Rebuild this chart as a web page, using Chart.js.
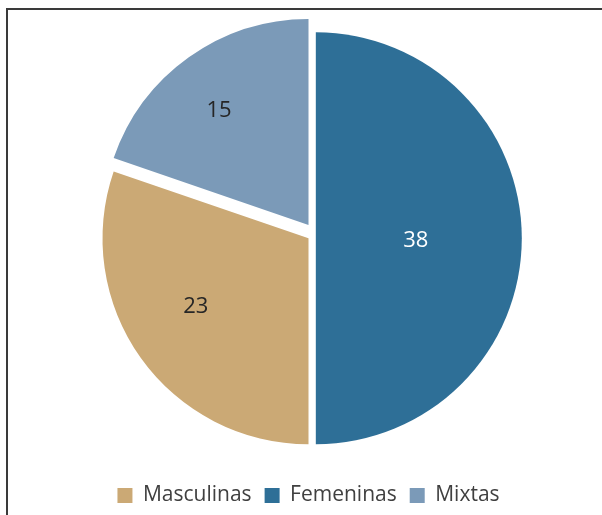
<!DOCTYPE html>
<html>
<head>
<meta charset="utf-8">
<script src="https://cdn.jsdelivr.net/npm/chart.js@4/dist/chart.umd.min.js"></script>
<style>
  html, body { margin: 0; padding: 0; background: #ffffff; overflow: hidden; }
  #wrap { position: relative; width: 602px; height: 515px; overflow: hidden; }
  #frame { position: absolute; left: 6px; top: 8px; width: 700px; height: 600px;
           border-top: 2px solid #3a3a3a; border-left: 2px solid #3a3a3a; }
  #c { position: absolute; left: 0; top: 0; }
</style>
</head>
<body>
<div id="wrap">
  <div id="frame"></div>
  <canvas id="c" width="602" height="525"></canvas>
</div>
<script>
// ---- data ----
const categories = ['Femeninas', 'Masculinas', 'Mixtas'];
const values = [38, 23, 15];
const legendOrder = ['Masculinas', 'Femeninas', 'Mixtas'];

// ---- styling ----
const sliceColors = ['#2e6f97', '#cba975', '#7b9ab8'];
const labelColors = ['#ffffff', '#262626', '#262626'];
const explodeShift = [[7.3, 0], [0, 0], [0, -13.3]]; // pixel explosion of each slice
const labelNudge = [[3, 2.5], [-6.5, -7], [-6.5, 1.5]]; // small text nudges
const LABEL_K = 1.11; // label distance relative to sector centroid

const explodePlugin = {
  id: 'explodeSlices',
  afterDatasetsUpdate(chart) {
    const meta = chart.getDatasetMeta(0);
    meta.data.forEach((arc, i) => {
      arc.x += explodeShift[i][0];
      arc.y += explodeShift[i][1];
    });
  }
};

const labelPlugin = {
  id: 'sliceLabels',
  afterDatasetsDraw(chart) {
    const ctx = chart.ctx;
    const meta = chart.getDatasetMeta(0);
    ctx.save();
    ctx.font = '22px "Open Sans"';
    ctx.textAlign = 'center';
    ctx.textBaseline = 'middle';
    meta.data.forEach((arc, i) => {
      const a = arc.endAngle - arc.startAngle;
      const mid = (arc.startAngle + arc.endAngle) / 2;
      const d = LABEL_K * 2 * arc.outerRadius * Math.sin(a / 2) / (3 * a / 2);
      ctx.fillStyle = labelColors[i];
      ctx.fillText(String(chart.data.datasets[0].data[i]),
        arc.x + Math.cos(mid) * d + labelNudge[i][0],
        arc.y + Math.sin(mid) * d + labelNudge[i][1]);
    });
    ctx.restore();
  }
};

new Chart(document.getElementById('c'), {
  type: 'pie',
  data: {
    labels: categories,
    datasets: [{
      data: values,
      backgroundColor: sliceColors,
      borderWidth: 0,
      radius: 206,
      clip: false
    }]
  },
  options: {
    responsive: false,
    animation: false,
    devicePixelRatio: 1,
    layout: { padding: { left: 15, right: 0, top: 4.6, bottom: 9 } },
    plugins: {
      tooltip: { enabled: false },
      legend: {
        position: 'bottom',
        labels: {
          boxWidth: 15,
          boxHeight: 15,
          padding: 13,
          color: '#404040',
          font: { family: 'Open Sans', size: 21 },
          sort: (a, b) => legendOrder.indexOf(a.text) - legendOrder.indexOf(b.text)
        }
      }
    }
  },
  plugins: [explodePlugin, labelPlugin]
});
</script>
</body>
</html>
